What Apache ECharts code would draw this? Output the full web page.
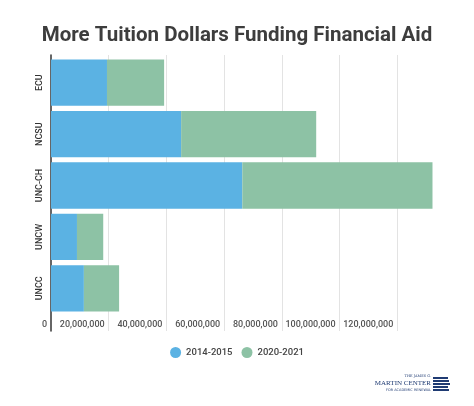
<!DOCTYPE html>
<html>
<head>
<meta charset="utf-8">
<script src="https://cdn.jsdelivr.net/npm/echarts@6/dist/echarts.min.js"></script>
<style>
  html, body { margin: 0; padding: 0; background: #fff; }
  #chart { width: 474px; height: 406px; }
</style>
</head>
<body>
<div id="chart"></div>
<script>
// schools, top to bottom
const schools = ['ECU', 'NCSU', 'UNC-CH', 'UNCW', 'UNCC']
const legendNames = ['2014-2015', '2020-2021']
// dollars
const aid2014 = [19400000, 45100000, 66300000, 9000000, 11400000]
const aid2020 = [19800000, 46800000, 65900000, 9100000, 12200000]
const axisMax = 140000000
const axisStep = 20000000

const blue = '#5BB2E3'
const green = '#8DC2A5'
const font = 'Roboto'

const chart = echarts.init(document.getElementById('chart'))

const options = {
  animation: false,
  color: [blue, green],
  title: {
    text: 'More Tuition Dollars Funding Financial Aid',
    left: 'center',
    top: 20,
    textStyle: { fontFamily: font, fontWeight: 'bold', fontSize: 20.5, color: '#3d3d3d' }
  },
  legend: {
    data: legendNames,
    bottom: 43,
    left: 'center',
    icon: 'circle',
    itemWidth: 11,
    itemHeight: 11,
    itemGap: 9,
    textStyle: { fontFamily: font, fontSize: 9.5, fontWeight: 500, color: '#444' }
  },
  grid: [
    // bars
    { left: 51, top: 57, width: 404, height: 257 },
    // gridlines + left axis, a bit taller
    { left: 51, top: 55, width: 404, height: 276 }
  ],
  xAxis: [
    {
      type: 'value', gridIndex: 0, min: 0, max: axisMax, interval: axisStep,
      axisLine: { show: false },
      axisTick: { show: false },
      splitLine: { show: false },
      axisLabel: {
        align: 'right', margin: 6, padding: [0, 4, 0, 0],
        fontFamily: font, fontSize: 9, fontWeight: 500, color: '#555',
        formatter: v => v >= axisMax ? '' : v.toLocaleString('en-US')
      }
    },
    {
      type: 'value', gridIndex: 1, min: 0, max: axisMax, interval: axisStep,
      axisLine: { show: false },
      axisTick: { show: false },
      axisLabel: { show: false },
      splitLine: {
        show: true, showMinLine: false, showMaxLine: false,
        lineStyle: { color: '#e3e3e3', width: 1 }
      }
    }
  ],
  yAxis: [
    {
      type: 'category', gridIndex: 0, data: schools, inverse: true,
      axisLine: { show: false },
      axisTick: { show: false },
      axisLabel: {
        rotate: 90, margin: 7, fontFamily: font, fontSize: 9,
        fontWeight: 500, color: '#333'
      }
    },
    {
      type: 'value', gridIndex: 1, min: 0, max: 1,
      axisLine: { show: true, lineStyle: { color: '#333', width: 1.5 } },
      axisTick: { show: false },
      axisLabel: { show: false },
      splitLine: { show: false }
    }
  ],
  series: [
    {
      name: legendNames[0], type: 'bar', stack: 'aid',
      xAxisIndex: 0, yAxisIndex: 0,
      barCategoryGap: '10%', data: aid2014
    },
    {
      name: legendNames[1], type: 'bar', stack: 'aid',
      xAxisIndex: 0, yAxisIndex: 0,
      barCategoryGap: '10%', data: aid2020
    }
  ],
  graphic: [
    // Martin Center logo, bottom right
    { type: 'text', right: 43, top: 374, style: { text: 'THE JAMES G.', font: '3.5px "DejaVu Serif"', fill: '#1f3b73' } },
    { type: 'text', right: 43, top: 380, style: { text: 'MARTIN CENTER', font: '7px "Liberation Serif"', fill: '#1f3b73' } },
    { type: 'text', right: 43, top: 388, style: { text: 'FOR ACADEMIC RENEWAL', font: '3.5px "DejaVu Sans"', fill: '#1f3b73' } },
    { type: 'rect', shape: { x: 433, y: 377, width: 15, height: 2 }, style: { fill: '#1f3b73' } },
    { type: 'rect', shape: { x: 433, y: 380, width: 16, height: 2 }, style: { fill: '#1f3b73' } },
    { type: 'rect', shape: { x: 433, y: 383, width: 17, height: 2 }, style: { fill: '#1f3b73' } },
    { type: 'rect', shape: { x: 433, y: 386, width: 15, height: 2 }, style: { fill: '#1f3b73' } },
    { type: 'rect', shape: { x: 433, y: 389, width: 16, height: 2 }, style: { fill: '#1f3b73' } }
  ]
}

chart.setOption(options)
</script>
</body>
</html>
